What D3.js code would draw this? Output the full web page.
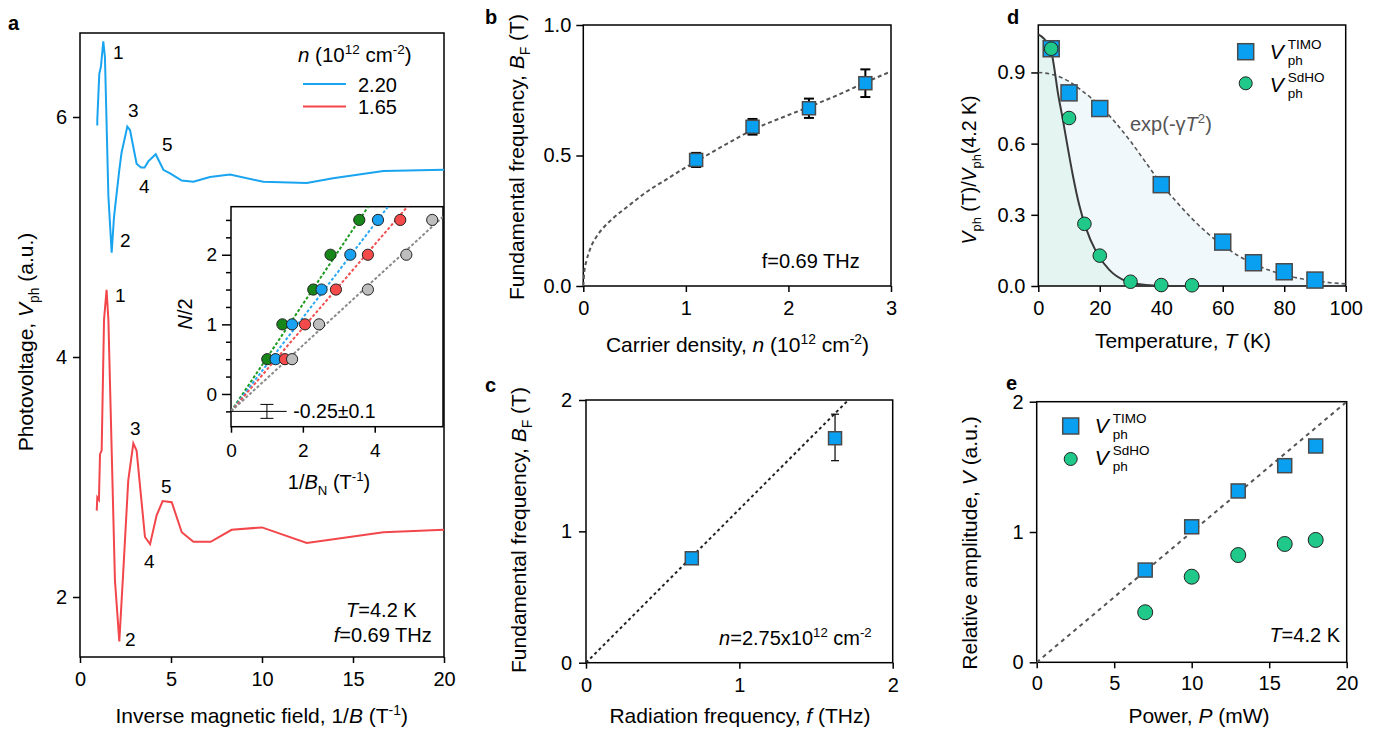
<!DOCTYPE html>
<html>
<head>
<meta charset="utf-8">
<script src="https://cdn.jsdelivr.net/npm/d3@7"></script>
<style>
  body { margin: 0; background: #fff; }
  text { font-family: "Liberation Sans", Arial, sans-serif; }
</style>
</head>
<body>
<svg id="fig" width="1373" height="730"></svg>
<script>
// ---------- data ----------
// panel a: photovoltage vs 1/B, [1/B, V]
const a220 = [[0.95,5.93],[0.95,5.975],[1.06,6.36],[1.15,6.42],[1.28,6.63],[1.37,6.5],[1.56,5.34],[1.74,4.87],[1.87,5.17],[2.16,5.56],[2.28,5.70],[2.6,5.92],[2.75,5.89],[3.11,5.61],[3.35,5.58],[3.55,5.58],[3.75,5.63],[4.16,5.69],[4.58,5.56],[4.95,5.53],[5.59,5.47],[6.23,5.46],[7.14,5.50],[8.24,5.52],[10.07,5.46],[12.46,5.45],[13.9,5.49],[16.67,5.55],[20,5.56]];
const a165 = [[0.92,2.72],[0.95,2.83],[1.04,2.81],[1.10,3.19],[1.19,3.22],[1.32,4.31],[1.46,4.56],[1.56,4.31],[1.92,2.14],[2.16,1.63],[2.38,2.22],[2.65,2.97],[2.93,3.28],[3.11,3.22],[3.57,2.50],[3.85,2.44],[4.21,2.68],[4.54,2.80],[5.04,2.79],[5.59,2.54],[6.23,2.46],[7.18,2.46],[8.33,2.56],[10.0,2.58],[12.46,2.45],[16.67,2.54],[20,2.56]];
const aLegend = ["2.20", "1.65"];

// inset: N/2 vs 1/B_N
const halfN = [0.5, 1, 1.5, 2, 2.5];
const invBgreen = [1.01, 1.43, 2.29, 2.77, 3.57];
const invBblue  = [1.24, 1.70, 2.52, 3.32, 4.09];
const invBred   = [1.50, 2.06, 2.92, 3.81, 4.71];
const invBgray  = [1.70, 2.45, 3.81, 4.88, 5.60];
const fitSlopes = [0.77, 0.673, 0.599, 0.474];
const fitIntercept = -0.25, fitIntErr = 0.1;

// panel b: B_F vs n
const bN = [1.1, 1.65, 2.2, 2.75];
const bBF = [0.483, 0.61, 0.681, 0.777];
const bErr = [0.027, 0.03, 0.037, 0.053];
const bFit = [[0,0],[0.01,0.055],[0.03,0.095],[0.065,0.14],[0.13,0.19],[0.2,0.225],[0.3,0.263],[0.45,0.31],[0.6,0.356],[0.8,0.406],[1.0,0.455],[1.2,0.5],[1.4,0.545],[1.65,0.598],[2.0,0.655],[2.2,0.686],[2.5,0.735],[2.75,0.78],[3.0,0.822]];

// panel c: B_F vs f
const cF = [0.69, 1.624];
const cBF = [0.795, 1.709];
const cErrUp = [0.02, 0.183];
const cErrDn = [0.02, 0.171];
const cFit = [[0,0],[1.711,2]];

// panel d: normalised amplitude vs T
const dTtimo = [4.2, 10, 20, 40, 60, 70, 80, 90];
const dVtimo = [1.0, 0.814, 0.748, 0.427, 0.185, 0.098, 0.06, 0.025];
const dTsdho = [4.2, 10, 15, 20, 30, 40, 50];
const dVsdho = [1.0, 0.708, 0.262, 0.128, 0.018, 0.004, 0.003];
const dFitTimo = [[0,0.9],[5,0.89],[10,0.862],[15,0.815],[20,0.76],[25,0.69],[30,0.61],[35,0.52],[40,0.43],[45,0.354],[50,0.284],[55,0.223],[60,0.171],[65,0.128],[70,0.094],[75,0.067],[80,0.047],[85,0.032],[90,0.022],[95,0.014],[100,0.009]];
const dFitSdho = [[0,1.06],[2,1.04],[4.2,0.99],[5.3,0.91],[6.3,0.82],[7.9,0.708],[9.6,0.582],[11.2,0.469],[13.3,0.342],[15.5,0.244],[18.8,0.145],[23.1,0.068],[28.5,0.021],[35,0.004],[42,0],[50,0]];

// panel e: amplitude vs power
const ePow = [7, 10, 13, 16, 18];
const eTimo = [0.708, 1.04, 1.315, 1.509, 1.66];
const eSdho = [0.384, 0.657, 0.823, 0.908, 0.939];
const eFit = [[0,0],[20,2]];

// ---------- drawing ----------
const BLUE = "#0aa0f2", GREEN = "#20c98a", CBLUE = "#19a4f0", CRED = "#f2464b";
const FS = 20, TITLE = 21;
const svg = d3.select("#fig");

function mkPanel(l, t, r, b, xd, yd) {
  return { l, t, r, b,
    x: d3.scaleLinear().domain(xd).range([l, r]),
    y: d3.scaleLinear().domain(yd).range([b, t]) };
}

const A  = mkPanel(80, 33, 444, 657, [0, 20], [1.5, 6.7]);
const AI = mkPanel(231, 206.7, 443, 426.7, [0, 5.9], [-0.47, 2.69]);
const B  = mkPanel(583.3, 25, 891, 286, [0, 3], [0, 1]);
const C  = mkPanel(586, 400, 892.7, 662.7, [0, 2], [0, 2]);
const D  = mkPanel(1038.3, 25, 1345.7, 286, [0, 100], [0, 1.1]);
const E  = mkPanel(1036.7, 401.7, 1346.7, 662.3, [0, 20], [0, 2]);

function styleAxis(g, fs) {
  g.attr("font-family", null);
  g.select(".domain").remove();
  g.selectAll("line").attr("stroke", "#000").attr("stroke-width", 1.5);
  g.selectAll("text").attr("font-size", fs).attr("fill", "#000");
}

function axes(p, xt, yt, o) {
  o = o || {};
  const fs = o.fs || FS;
  const gx = svg.append("g").attr("transform", `translate(0,${p.b})`)
    .call(d3.axisBottom(p.x).tickValues(xt).tickSize(o.xts || 6).tickPadding(o.xp || 9)
      .tickFormat(o.xf || d3.format("d")));
  styleAxis(gx, fs);
  const gy = svg.append("g").attr("transform", `translate(${p.l},0)`)
    .call(d3.axisLeft(p.y).tickValues(yt).tickSize(o.yts || 7).tickPadding(o.yp || 6)
      .tickFormat(o.yf || d3.format("d")));
  styleAxis(gy, fs);
  svg.append("rect").attr("x", p.l).attr("y", p.t)
    .attr("width", p.r - p.l).attr("height", p.b - p.t)
    .attr("fill", "none").attr("stroke", "#000").attr("stroke-width", 1.5);
  return gy;
}

// text with italic / sup / sub pieces
function rich(x, y, parts, o) {
  o = o || {};
  const fs = o.fs || FS;
  const t = svg.append("text").attr("x", x).attr("y", y)
    .attr("font-size", fs).attr("text-anchor", o.anchor || "start")
    .attr("fill", o.fill || "#000");
  if (o.rot) t.attr("transform", `rotate(-90,${x},${y})`);
  let shift = 0;
  parts.forEach(p => {
    if (typeof p === "string") p = { t: p };
    const s = t.append("tspan").text(p.t);
    const target = p.sup ? -0.4 * fs : p.sub ? 0.28 * fs : 0;
    if (target - shift !== 0) s.attr("dy", target - shift);
    shift = target;
    if (p.sup || p.sub) s.attr("font-size", fs * 0.66);
    if (p.i) s.attr("font-style", "italic");
  });
  return t;
}

function panelLabel(x, y, s) {
  svg.append("text").attr("x", x).attr("y", y).attr("font-size", 20)
    .attr("font-weight", "bold").text(s);
}

function squares(p, xs, ys, s) {
  svg.append("g").selectAll("rect").data(xs).join("rect")
    .attr("x", d => p.x(d) - s / 2).attr("y", (d, i) => p.y(ys[i]) - s / 2)
    .attr("width", s).attr("height", s)
    .attr("fill", BLUE).attr("stroke", "#4a4a4a").attr("stroke-width", 1.5);
}

function circles(p, xs, ys, r, fill, stroke) {
  svg.append("g").selectAll("circle").data(xs).join("circle")
    .attr("cx", d => p.x(d)).attr("cy", (d, i) => p.y(ys[i])).attr("r", r)
    .attr("fill", fill).attr("stroke", stroke || "#222").attr("stroke-width", 1);
}

function path(p, pts, stroke, w, dash, curve) {
  const line = d3.line().x(d => p.x(d[0])).y(d => p.y(d[1]));
  if (curve) line.curve(curve);
  const el = svg.append("path").datum(pts).attr("d", line)
    .attr("fill", "none").attr("stroke", stroke).attr("stroke-width", w);
  if (dash) el.attr("stroke-dasharray", dash);
  return el;
}

function errBars(p, xs, ys, up, dn, cap, w) {
  const g = svg.append("g").attr("stroke", "#000").attr("stroke-width", w);
  xs.forEach((xv, i) => {
    const cx = p.x(xv), y1 = p.y(ys[i] + up[i]), y2 = p.y(ys[i] - dn[i]);
    g.append("line").attr("x1", cx).attr("x2", cx).attr("y1", y1).attr("y2", y2);
    g.append("line").attr("x1", cx - cap).attr("x2", cx + cap).attr("y1", y1).attr("y2", y1);
    g.append("line").attr("x1", cx - cap).attr("x2", cx + cap).attr("y1", y2).attr("y2", y2);
  });
}

// ===== panel a =====
axes(A, [0, 5, 10, 15, 20], [2, 4, 6], { yts: 7, yp: 6 });
path(A, a220, CBLUE, 2);
path(A, a165, CRED, 2);
panelLabel(8, 30, "a");

[["1",113,59],["3",128,117],["5",162,151],["4",139,193],["2",120,247],
 ["1",115,302],["3",130,435],["5",161,493],["4",144,568],["2",125,646]].forEach(d => {
  svg.append("text").attr("x", d[1]).attr("y", d[2]).attr("font-size", 19).text(d[0]);
});

rich(298, 62, [{t:"n",i:1}, " (10", {t:"12",sup:1}, " cm", {t:"-2",sup:1}, ")"], { fs: 20.5 });
[CBLUE, CRED].forEach((c, i) => {
  const yy = 84 + i * 22.5;
  svg.append("line").attr("x1", 303).attr("x2", 346).attr("y1", yy).attr("y2", yy)
    .attr("stroke", c).attr("stroke-width", 2);
  svg.append("text").attr("x", 358).attr("y", yy + 7.5).attr("font-size", FS).text(aLegend[i]);
});

rich(416.7, 617, [{t:"T",i:1}, "=4.2 K"], { anchor: "end" });
rich(431.7, 642, [{t:"f",i:1}, "=0.69 THz"], { anchor: "end" });
rich(261.7, 723, ["Inverse magnetic field, 1/", {t:"B",i:1}, " (T", {t:"-1",sup:1}, ")"], { anchor: "middle", fs: TITLE });
rich(33, 342, ["Photovoltage, ", {t:"V",i:1}, {t:"ph",sub:1}, " (a.u.)"], { anchor: "middle", rot: 1, fs: TITLE });

// ===== inset =====
svg.append("rect").attr("x", AI.l).attr("y", AI.t).attr("width", AI.r - AI.l)
  .attr("height", AI.b - AI.t).attr("fill", "#fff");
svg.append("clipPath").attr("id", "clipInset").append("rect")
  .attr("x", AI.l).attr("y", AI.t).attr("width", AI.r - AI.l).attr("height", AI.b - AI.t);
const insetY = axes(AI, [0, 2, 4], d3.range(-0.25, 2.51, 0.25),
  { fs: 19, xp: 10.5, yts: 9, yp: 5, yf: v => Number.isInteger(v) ? v : "" });
insetY.selectAll(".tick").filter(v => !Number.isInteger(v)).select("line").attr("x2", -5);

const insetColors = ["#17871a", "#19a2f2", "#f54a4a", "#bdbdbd"];
const insetLines = ["#1f9a1f", "#2aa8f5", "#f05050", "#8a8a8a"];
const gFit = svg.append("g").attr("clip-path", "url(#clipInset)");
fitSlopes.forEach((s, i) => {
  const x1 = 5.9;
  gFit.append("line").attr("x1", AI.x(0)).attr("y1", AI.y(fitIntercept))
    .attr("x2", AI.x(x1)).attr("y2", AI.y(fitIntercept + s * x1))
    .attr("stroke", insetLines[i]).attr("stroke-width", 2).attr("stroke-dasharray", "3,2");
});
// intercept marker
svg.append("line").attr("x1", AI.x(0)).attr("x2", AI.x(1.55))
  .attr("y1", AI.y(fitIntercept)).attr("y2", AI.y(fitIntercept)).attr("stroke", "#000").attr("stroke-width", 1);
errBars(AI, [1], [fitIntercept], [fitIntErr], [fitIntErr], 6.5, 1);
[invBgreen, invBblue, invBred, invBgray].forEach((xs, i) => circles(AI, xs, halfN, 5.6, insetColors[i], "#222"));
rich(293.3, 418, ["-0.25\u00b10.1"], { fs: 19.5 });
rich(329, 489, ["1/", {t:"B",i:1}, {t:"N",sub:1}, " (T", {t:"-1",sup:1}, ")"], { anchor: "middle", fs: 20 });
rich(191.7, 314, [{t:"N",i:1}, "/2"], { anchor: "middle", rot: 1, fs: 20 });

// ===== panel b =====
axes(B, [0, 1, 2, 3], [0, 0.5, 1], { yf: d3.format(".1f"), yp: 5 });
path(B, bFit, "#555", 2, "4,3", d3.curveMonotoneX);
errBars(B, bN, bBF, bErr, bErr, 5, 2);
squares(B, bN, bBF, 13);
panelLabel(485, 24, "b");
rich(761.7, 268, ["f=0.69 THz"]);
rich(737.5, 352, ["Carrier density, ", {t:"n",i:1}, " (10", {t:"12",sup:1}, " cm", {t:"-2",sup:1}, ")"], { anchor: "middle", fs: TITLE });
rich(524, 157, ["Fundamental frequency, ", {t:"B",i:1}, {t:"F",sub:1}, " (T)"], { anchor: "middle", rot: 1, fs: TITLE });

// ===== panel c =====
axes(C, [0, 1, 2], [0, 1, 2], { yp: 7 });
path(C, cFit, "#222", 2, "3,3");
errBars(C, cF, cBF, cErrUp, cErrDn, 4, 1.2);
squares(C, cF, cBF, 13);
panelLabel(485, 392, "c");
rich(871.7, 645, [{t:"n",i:1}, "=2.75x10", {t:"12",sup:1}, " cm", {t:"-2",sup:1}], { anchor: "end" });
rich(740, 723, ["Radiation frequency, ", {t:"f",i:1}, " (THz)"], { anchor: "middle", fs: TITLE });
rich(526, 530, ["Fundamental frequency, ", {t:"B",i:1}, {t:"F",sub:1}, " (T)"], { anchor: "middle", rot: 1, fs: TITLE });

// ===== panel d =====
const areaD = d3.area().x(d => D.x(d[0])).y0(D.y(0)).y1(d => D.y(d[1])).curve(d3.curveMonotoneX);
svg.append("path").datum(dFitTimo).attr("d", areaD).attr("fill", "#f0f8fc");
svg.append("path").datum(dFitSdho).attr("d", areaD).attr("fill", "#e4f5f1");
axes(D, [0, 20, 40, 60, 80, 100], [0, 0.3, 0.6, 0.9], { yf: d3.format(".1f") });
path(D, dFitTimo, "#555", 1.6, "4,3", d3.curveMonotoneX);
path(D, dFitSdho, "#3a3a3a", 2, null, d3.curveMonotoneX);
squares(D, dTtimo, dVtimo, 16);
circles(D, dTsdho, dVsdho, 6.8, GREEN);
panelLabel(1007, 24, "d");
rich(1130, 131, ["exp(-\u03b3", {t:"T",i:1}, {t:"2",sup:1}, ")"], { fill: "#555" });
rich(1183, 348, ["Temperature, ", {t:"T",i:1}, " (K)"], { anchor: "middle", fs: TITLE });
rich(976, 170, [{t:"V",i:1}, {t:"ph",sub:1}, " (T)/", {t:"V",i:1}, {t:"ph",sub:1}, "(4.2 K)"], { anchor: "middle", rot: 1, fs: 19.5 });

// legend entries for d and e
function legendEntry(cx, cy, kind, sup, vy) {
  if (kind === "sq") {
    svg.append("rect").attr("x", cx - 8).attr("y", cy - 8).attr("width", 16).attr("height", 16)
      .attr("fill", BLUE).attr("stroke", "#4a4a4a").attr("stroke-width", 1.5);
  } else {
    svg.append("circle").attr("cx", cx).attr("cy", cy).attr("r", 6.5)
      .attr("fill", GREEN).attr("stroke", "#222").attr("stroke-width", 1);
  }
  svg.append("text").attr("x", cx + 24).attr("y", vy).attr("font-size", 21)
    .attr("font-style", "italic").text("V");
  svg.append("text").attr("x", cx + 42).attr("y", vy - 9.5).attr("font-size", 13.5).text(sup);
  svg.append("text").attr("x", cx + 42).attr("y", vy + 6).attr("font-size", 13.5).text("ph");
}
legendEntry(1245.7, 51.7, "sq", "TIMO", 58.5);
legendEntry(1245.7, 83.3, "ci", "SdHO", 91.5);

// ===== panel e =====
axes(E, [0, 5, 10, 15, 20], [0, 1, 2], { xp: 8 });
path(E, eFit, "#555", 2, "4,4");
squares(E, ePow, eTimo, 14);
circles(E, ePow, eSdho, 7.5, GREEN);
panelLabel(1006, 390, "e");
legendEntry(1070.7, 426, "sq", "TIMO", 432.5);
legendEntry(1070.7, 459, "ci", "SdHO", 464.5);
rich(1340, 642, [{t:"T",i:1}, "=4.2 K"], { anchor: "end" });
rich(1199, 723, ["Power, ", {t:"P",i:1}, " (mW)"], { anchor: "middle", fs: TITLE });
rich(977, 543, ["Relative amplitude, ", {t:"V",i:1}, " (a.u.)"], { anchor: "middle", rot: 1, fs: TITLE });
</script>
</body>
</html>
